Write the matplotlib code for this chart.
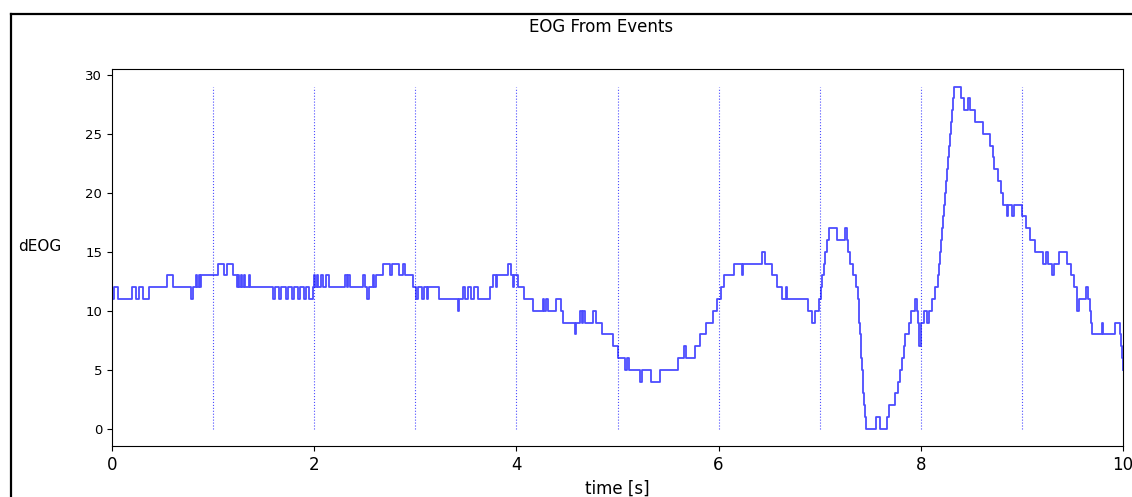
import numpy as np
import matplotlib
matplotlib.use('Agg')
import matplotlib.pyplot as plt
from matplotlib.lines import Line2D

# event markers [s]
event_times = [1, 2, 3, 4, 5, 6, 7, 8, 9]

# step signal: time of each change [s] and the new value
step_t = [0.000, 0.020, 0.055, 0.195, 0.234, 0.270, 0.310, 0.370, 0.547, 0.603,
          0.785, 0.800, 0.834, 0.845, 0.865, 0.875, 0.885, 1.050, 1.107, 1.134,
          1.194, 1.233, 1.250, 1.260, 1.280, 1.290, 1.310, 1.320, 1.360, 1.370,
          1.590, 1.610, 1.650, 1.670, 1.720, 1.740, 1.780, 1.800, 1.840, 1.860,
          1.900, 1.920, 1.950, 1.985, 2.000, 2.010, 2.030, 2.040, 2.065, 2.083,
          2.120, 2.150, 2.305, 2.320, 2.330, 2.350, 2.480, 2.500, 2.520, 2.540,
          2.585, 2.595, 2.610, 2.680, 2.750, 2.765, 2.840, 2.875, 2.900, 2.974,
          3.010, 3.030, 3.065, 3.085, 3.115, 3.125, 3.230, 3.420, 3.430, 3.468,
          3.490, 3.525, 3.548, 3.580, 3.623, 3.740, 3.770, 3.800, 3.810, 3.920,
          3.943, 3.963, 3.976, 4.020, 4.075, 4.160, 4.260, 4.270, 4.290, 4.310,
          4.390, 4.440, 4.460, 4.580, 4.590, 4.630, 4.645, 4.655, 4.680, 4.760,
          4.790, 4.850, 4.960, 5.000, 5.070, 5.090, 5.110, 5.220, 5.240, 5.330,
          5.420, 5.600, 5.660, 5.680, 5.770, 5.820, 5.880, 5.940, 5.980, 6.020,
          6.050, 6.150, 6.230, 6.240, 6.426, 6.460, 6.525, 6.580, 6.630, 6.670,
          6.680, 6.888, 6.920, 6.950, 6.997, 7.010, 7.020, 7.040, 7.050, 7.070,
          7.090, 7.170, 7.250, 7.270, 7.280, 7.300, 7.330, 7.360, 7.380, 7.386,
          7.392, 7.398, 7.404, 7.410, 7.417, 7.424, 7.431, 7.438, 7.446, 7.455,
          7.557, 7.597, 7.663, 7.690, 7.745, 7.770, 7.790, 7.810, 7.830, 7.845,
          7.880, 7.900, 7.940, 7.960, 7.970, 7.978, 7.985, 8.000, 8.005, 8.030,
          8.065, 8.080, 8.110, 8.140, 8.165, 8.175, 8.185, 8.195, 8.205, 8.215,
          8.225, 8.235, 8.245, 8.255, 8.265, 8.275, 8.285, 8.295, 8.305, 8.315,
          8.325, 8.394, 8.430, 8.470, 8.490, 8.536, 8.618, 8.684, 8.710, 8.724,
          8.767, 8.790, 8.810, 8.850, 8.866, 8.899, 8.920, 8.998, 9.040, 9.080,
          9.130, 9.205, 9.238, 9.260, 9.294, 9.317, 9.370, 9.443, 9.490, 9.515,
          9.540, 9.548, 9.561, 9.634, 9.657, 9.674, 9.682, 9.690, 9.790, 9.806,
          9.921, 9.970, 9.980, 9.988, 9.995, 10.000]
step_v = [11, 12, 11, 12, 11, 12, 11, 12, 13, 12,
          11, 12, 13, 12, 13, 12, 13, 14, 13, 14,
          13, 12, 13, 12, 13, 12, 13, 12, 13, 12,
          11, 12, 11, 12, 11, 12, 11, 12, 11, 12,
          11, 12, 11, 12, 13, 12, 13, 12, 13, 12,
          13, 12, 13, 12, 13, 12, 13, 12, 11, 12,
          13, 12, 13, 14, 13, 14, 13, 14, 13, 12,
          11, 12, 11, 12, 11, 12, 11, 10, 11, 12,
          11, 12, 11, 12, 11, 12, 13, 12, 13, 14,
          13, 12, 13, 12, 11, 10, 11, 10, 11, 10,
          11, 10, 9, 8, 9, 10, 9, 10, 9, 10,
          9, 8, 7, 6, 5, 6, 5, 4, 5, 4,
          5, 6, 7, 6, 7, 8, 9, 10, 11, 12,
          13, 14, 13, 14, 15, 14, 13, 12, 11, 12,
          11, 10, 9, 10, 11, 12, 13, 14, 15, 16,
          17, 16, 17, 16, 15, 14, 13, 12, 11, 10,
          9, 8, 7, 6, 5, 4, 3, 2, 1, 0,
          1, 0, 1, 2, 3, 4, 5, 6, 7, 8,
          9, 10, 11, 10, 9, 8, 7, 8, 9, 10,
          9, 10, 11, 12, 13, 14, 15, 16, 17, 18,
          19, 20, 21, 22, 23, 24, 25, 26, 27, 28,
          29, 28, 27, 28, 27, 26, 25, 24, 23, 22,
          21, 20, 19, 18, 19, 18, 19, 18, 17, 16,
          15, 14, 15, 14, 13, 14, 15, 14, 13, 12,
          11, 10, 11, 12, 11, 10, 9, 8, 9, 8,
          9, 8, 7, 6, 5, 5]

fig = plt.figure(figsize=(11.32, 4.97), dpi=100)
ax = fig.add_axes([0.0989, 0.1026, 0.8932, 0.7576])

ax.plot(step_t, step_v, drawstyle='steps-post', color='blue', alpha=0.7, lw=1.3)
ax.vlines(event_times, 0, max(step_v), colors='blue', linestyles='dotted',
          lw=0.8, alpha=0.7)

ax.set_xlim(0, 10)
fig.text(601.5/1132, 1 - 27/497, 'EOG From Events', fontsize=12,
         ha='center', va='center')
ax.set_xlabel('time [s]', fontsize=12, labelpad=4)
ax.set_ylabel('dEOG', fontsize=11, rotation=0, va='center', ha='center')
ax.yaxis.set_label_coords(-0.071, 0.53)
ax.tick_params(axis='x', labelsize=12)
ax.tick_params(axis='y', labelsize=9.5)

# black frame at top and left of the (cropped) figure
fig.add_artist(Line2D([10.5/1132, 1], [1 - 13.5/497, 1 - 13.5/497],
                      transform=fig.transFigure, color='black', lw=1.6))
fig.add_artist(Line2D([10.5/1132, 10.5/1132], [0, 1 - 13.5/497],
                      transform=fig.transFigure, color='black', lw=1.6))

fig.savefig('out.png', dpi=100)
